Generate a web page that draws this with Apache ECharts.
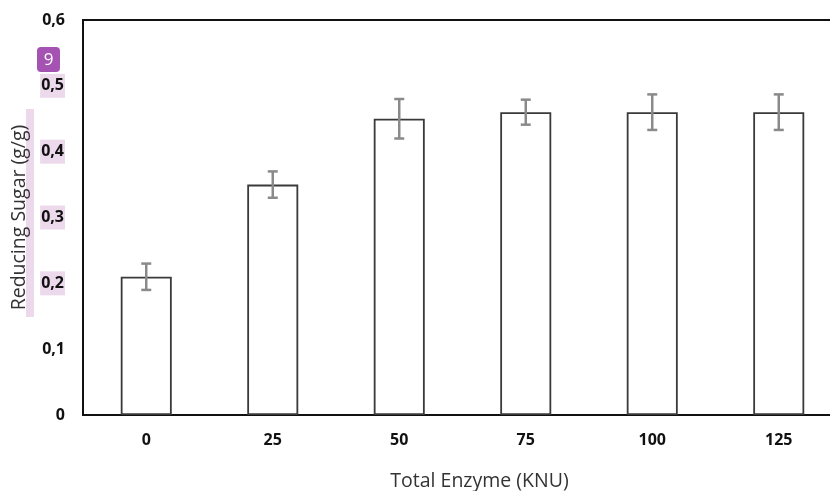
<!DOCTYPE html>
<html>
<head>
<meta charset="utf-8">
<script src="https://cdn.jsdelivr.net/npm/echarts@6/dist/echarts.min.js"></script>
<style>html,body{margin:0;padding:0;background:#fff;}#c{width:830px;height:491px;}</style>
</head>
<body>
<div id="c"></div>
<script>
const categories = ['0', '25', '50', '75', '100', '125'];
const values = [0.21, 0.35, 0.45, 0.46, 0.46, 0.46];
const errors = [0.02, 0.02, 0.03, 0.019, 0.027, 0.027];
const highlighted = [0.2, 0.3, 0.4, 0.5];

const chart = echarts.init(document.getElementById('c'));
const fontFam = '"Open Sans", "Liberation Sans", sans-serif';
chart.setOption({
  animation: false,
  grid: { left: 83, top: 20, width: 759, height: 395, containLabel: false, outerBoundsMode: 'none', show: true, borderColor: '#111', borderWidth: 2, backgroundColor: 'transparent' },
  xAxis: {
    type: 'category', data: categories,
    axisLine: { lineStyle: { color: '#111', width: 2 } },
    axisTick: { show: false },
    axisLabel: { color: '#111', fontWeight: 'bold', fontSize: 16, fontFamily: fontFam, margin: 17 },
    name: 'Total Enzyme (KNU)', nameLocation: 'middle', nameGap: 56,
    nameTextStyle: { color: '#333', fontSize: 19.5, fontFamily: fontFam, padding: [0, 0, 0, 34] }
  },
  yAxis: {
    type: 'value', min: 0, max: 0.6, interval: 0.1,
    splitLine: { show: false },
    axisLine: { show: true, lineStyle: { color: '#111', width: 2 } },
    axisTick: { show: false },
    axisLabel: {
      margin: 18, fontFamily: fontFam,
      formatter: function (v) {
        const r = Math.round(v * 10) / 10;
        const s = r === 0 ? '0' : String(r).replace('.', ',');
        return highlighted.indexOf(r) >= 0 ? '{h|' + s + '}' : '{n|' + s + '}';
      },
      rich: {
        n: { color: '#111', fontWeight: 'bold', fontSize: 16, fontFamily: fontFam },
        h: { color: '#111', fontWeight: 'bold', fontSize: 16, fontFamily: fontFam, backgroundColor: '#ecd9ec', padding: [4, 1, 4, 1] }
      }
    },
    name: 'Reducing Sugar (g/g)', nameLocation: 'middle', nameGap: 52, nameRotate: 90,
    nameTextStyle: { color: '#333', fontSize: 19.5, fontFamily: fontFam }
  },
  series: [
    {
      type: 'bar', data: values, barWidth: 51,
      itemStyle: { color: '#fff', borderColor: '#3a3a3a', borderWidth: 1.8 }
    },
    {
      type: 'custom',
      data: values.map((v, i) => [i, v - errors[i], v + errors[i]]),
      renderItem: function (params, api) {
        const lo = api.coord([api.value(0), api.value(1)]);
        const hi = api.coord([api.value(0), api.value(2)]);
        const hw = 5;
        const st = { stroke: '#8a8a8a', lineWidth: 2.5 };
        return {
          type: 'group', children: [
            { type: 'line', shape: { x1: hi[0], y1: hi[1], x2: lo[0], y2: lo[1] }, style: st },
            { type: 'line', shape: { x1: hi[0] - hw, y1: hi[1], x2: hi[0] + hw, y2: hi[1] }, style: st },
            { type: 'line', shape: { x1: lo[0] - hw, y1: lo[1], x2: lo[0] + hw, y2: lo[1] }, style: st }
          ]
        };
      },
      z: 5
    }
  ],
  graphic: [
    { type: 'rect', z: -10, left: 26, top: 109, shape: { width: 8, height: 208 }, style: { fill: '#ecd9ec' } },
    { type: 'rect', left: 37, top: 47, shape: { width: 23, height: 25, r: 4 }, style: { fill: '#a553b3' } },
    { type: 'text', style: { x: 48.5, y: 60, text: '9', fill: '#fff', font: '17px ' + fontFam, textAlign: 'center', textVerticalAlign: 'middle' } }
  ]
});
</script>
</body>
</html>
